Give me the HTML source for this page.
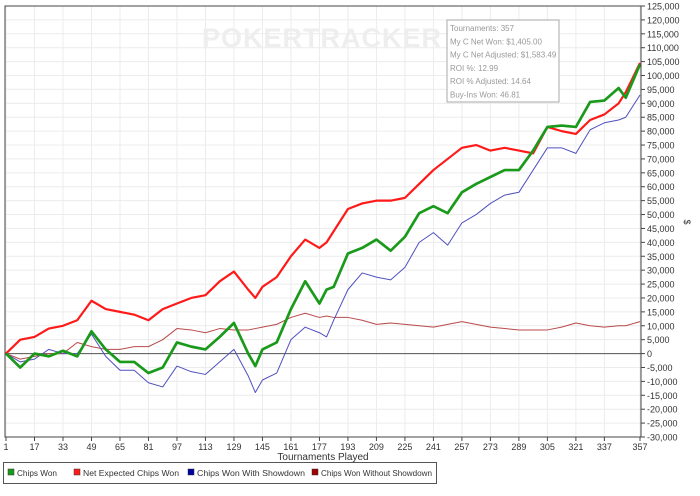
<!DOCTYPE html>
<html><head><meta charset="utf-8"><style>
body{margin:0;background:#fff;font-family:"Liberation Sans",sans-serif}
svg text{font-family:"Liberation Sans",sans-serif}
</style></head><body>
<svg id="c" width="700" height="491"></svg>
<script>
const ticksX=[1,17,33,49,65,81,97,113,129,145,161,177,193,209,225,241,257,273,289,305,321,337,357];
const tX=[1,9,17,25,33,41,49,57,65,73,81,89,97,105,113,121,129,137,141,145,153,161,169,177,181,185,193,201,209,217,225,233,241,249,257,265,273,281,289,297,305,313,321,329,337,345,349,357];
const chipsWon=[0,-5000,0,-1000,1000,-1000,8000,1500,-3000,-3000,-7000,-5000,4000,2500,1500,6000,11000,0,-4500,1500,4000,16000,26000,18000,23000,24000,36000,38000,41000,37000,42000,50500,53000,50500,58000,61000,63500,66000,66000,73000,81500,82000,81500,90500,91000,95500,92000,104000];
const showdown=[0,-3000,-2000,1500,0,0,7000,-1000,-6000,-6000,-10500,-12000,-4500,-6500,-7500,-3000,1500,-8000,-14000,-9500,-7000,5000,9500,7500,6000,12000,23000,29000,27500,26500,31000,40000,43500,39000,47000,50000,54000,57000,58000,66000,74000,74000,72000,80500,83000,84000,85000,93000];
const noShowdown=[0,-2000,-1000,0,0,4000,2500,1500,1500,2500,2500,5000,9000,8500,7500,9000,8500,8500,9000,9500,10500,13000,14500,13000,13500,13000,13000,12000,10500,11000,10500,10000,9500,10500,11500,10500,9500,9000,8500,8500,8500,9500,11000,10000,9500,10000,10000,11500];
const netExpected=[0,5000,6000,9000,10000,12000,19000,16000,15000,14000,12000,16000,18000,20000,21000,26000,29500,23000,20000,24000,27500,35000,41000,38000,40000,44000,52000,54000,55000,55000,56000,61000,66000,70000,74000,75000,73000,74000,73000,72000,81500,80000,79000,84000,86000,90000,94000,104500];
const yTicks=[];for(let v=-30000;v<=125000;v+=5000)yTicks.push(v);
const L=5,R=641,T=6,B=437,ymin=-30000,ymax=125000;
const sx=t=>6+(t-1)*(640-6)/356;
const sy=v=>B-(v-ymin)/(ymax-ymin)*(B-T);
const svg=document.getElementById('c');const NS='http://www.w3.org/2000/svg';
function mk(tag,a,txt){const e=document.createElementNS(NS,tag);for(const k in a)e.setAttribute(k,a[k]);if(txt!=null)e.textContent=txt;svg.appendChild(e);return e;}
yTicks.forEach(v=>{
 const g=mk('line',{x1:L,x2:R,y1:sy(v),y2:sy(v),stroke:'#ececec','stroke-width':1});
 
 
 mk('line',{x1:R,x2:R+4,y1:sy(v),y2:sy(v),stroke:'#444'});
 const t=mk('text',{x:R+6,y:sy(v)+3.5,'font-size':9,fill:'#333'},v.toLocaleString('en-US'));
 
 
});
ticksX.forEach(tk=>{
 const g=mk('line',{x1:sx(tk),x2:sx(tk),y1:T,y2:B,stroke:'#ececec'});
 
 
 mk('line',{x1:sx(tk),x2:sx(tk),y1:B,y2:B+4,stroke:'#444'});
 const t=mk('text',{x:sx(tk),y:B+13,'font-size':9,fill:'#333','text-anchor':'middle'},String(tk));
 
 
});
const wm=mk('text',{x:322,y:47,'font-size':27,'font-weight':'bold',fill:'#eeeeee','text-anchor':'middle','letter-spacing':1},'POKERTRACKER');


const zl=mk('line',{x1:L,x2:R,y1:sy(0),y2:sy(0),stroke:'#555'});


function series(vals,color,w,name){
 const p=mk('polyline',{points:vals.map((v,i)=>sx(tX[i])+','+sy(v)).join(' '),fill:'none',stroke:color,'stroke-width':w,'stroke-linejoin':'round'});
 
 
}
series(noShowdown,'#b94a4a',1,'series-chips-won-without-showdown');
series(showdown,'#5050c0',1,'series-chips-won-with-showdown');
series(netExpected,'#ff1a1a',2.2,'series-net-expected-chips-won');
series(chipsWon,'#1a9a1a',2.7,'series-chips-won');
const fr=mk('rect',{x:L,y:T,width:R-L,height:B-T,fill:'none',stroke:'#444'});


const xt=mk('text',{x:323,y:460,'font-size':10,fill:'#333','text-anchor':'middle'},'Tournaments Played');


const yt=mk('text',{x:684,y:222,'font-size':9,fill:'#333','text-anchor':'middle',transform:'rotate(90 684 222)'},'$');


const ib=mk('rect',{x:447,y:20,width:112,height:82,fill:'#fff',stroke:'#aaa'});


const info=['Tournaments: 357','My C Net Won: $1,405.00','My C Net Adjusted: $1,583.49','ROI %: 12.99','ROI % Adjusted: 14.64','Buy-Ins Won: 46.81'];
info.forEach((s,i)=>{const t=mk('text',{x:450,y:31+i*13.3,'font-size':8,fill:'#999'},s);
 
 });
const lb=mk('rect',{x:3.5,y:462.5,width:433,height:21,fill:'#fff',stroke:'#555'});


const legNames=['Chips Won','Net Expected Chips Won','Chips Won With Showdown','Chips Won Without Showdown'];
const legCols=['#1a9a1a','#ff1a1a','#0000a0','#a00000'];
const legX=[8,74,188,312];
const legW=[40,96,108,111];
legNames.forEach((n,i)=>{
 const r=mk('rect',{x:legX[i],y:469,width:6,height:6,fill:legCols[i],stroke:'#333','stroke-width':0.5});
 
 
 const t=mk('text',{x:legX[i]+9,y:476,'font-size':8,fill:'#333',textLength:legW[i],lengthAdjust:'spacingAndGlyphs'},n);
 
 
});
</script>
</body></html>
